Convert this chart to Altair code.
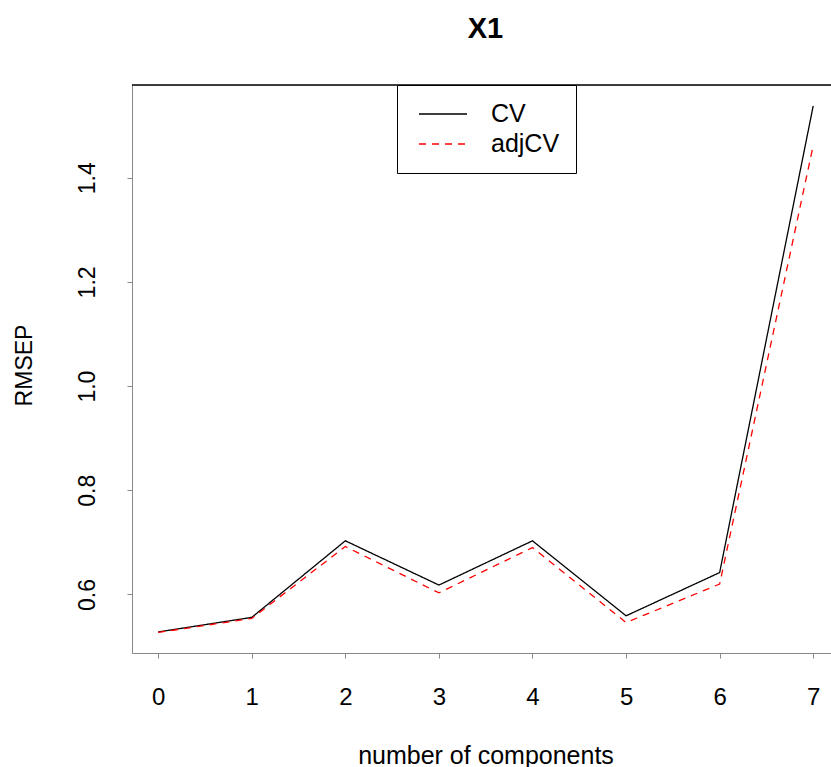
import altair as alt
import pandas as pd

components = [0, 1, 2, 3, 4, 5, 6, 7]
cv = [0.528, 0.556, 0.703, 0.618, 0.703, 0.559, 0.642, 1.538]
adjcv = [0.527, 0.554, 0.692, 0.603, 0.690, 0.546, 0.620, 1.462]
series_names = ["CV", "adjCV"]
y_ticks = [0.6, 0.8, 1.0, 1.2, 1.4]

df = pd.DataFrame({
    "ncomp": components * 2,
    "RMSEP": cv + adjcv,
    "series": ["CV"] * len(cv) + ["adjCV"] * len(adjcv),
})

W, H = 699, 568
FONT = "Liberation Sans"

xscale = alt.Scale(domain=[-0.28, 7.19], nice=False, zero=False)
yscale = alt.Scale(domain=[0.4876, 1.578], nice=False, zero=False)

legend = alt.Legend(
    title=None, orient="none", legendX=265, legendY=0,
    symbolType="M-2,0H2", symbolSize=576, symbolStrokeWidth=1.3,
    symbolOffset=17, labelOffset=35,
    labelFont=FONT, labelFontSize=25, labelColor="black",
    padding=16, rowPadding=4,
    strokeColor="black", fillColor="white",
    labelExpr="datum.label + '\u00a0'",
)

lines = alt.Chart(df).mark_line(strokeWidth=1.3, clip=True).encode(
    x=alt.X("ncomp:Q", scale=xscale,
            axis=alt.Axis(values=components, format="d", title="number of components",
                          grid=False, labelFontSize=24, labelPadding=27,
                          titleFontSize=25, titleFontWeight="normal",
                          titleX=353.5, titleY=110,
                          titleBaseline="alphabetic", titleAlign="center")),
    y=alt.Y("RMSEP:Q", scale=yscale,
            axis=alt.Axis(values=y_ticks, format=".1f", title="RMSEP", grid=False,
                          labelAngle=270, labelAlign="center", labelBaseline="alphabetic",
                          labelFontSize=23, labelPadding=33,
                          titleFontSize=23, titleFontWeight="normal", titleAngle=270,
                          titleX=-101, titleY=280,
                          titleBaseline="alphabetic", titleAlign="center")),
    color=alt.Color("series:N", scale=alt.Scale(domain=series_names, range=["black", "red"]),
                    legend=legend),
    strokeDash=alt.StrokeDash("series:N",
                              scale=alt.Scale(domain=series_names, range=[[1, 0], [7, 6]]),
                              legend=legend),
)

top_border = alt.Chart(pd.DataFrame({"b": [0]})).mark_rule(color="black", strokeWidth=1.3).encode(
    x=alt.value(0), x2=alt.value(W), y=alt.value(0)
)

chart = alt.layer(lines, top_border).properties(
    width=W, height=H,
    title=alt.TitleParams(text="X1", font=FONT, fontSize=29, fontWeight="bold", color="black",
                          anchor="middle", dx=4, offset=17, baseline="alphabetic", frame="group"),
    autosize=alt.AutoSizeParams(type="none"),
    padding={"left": 132, "top": 85, "right": 0, "bottom": 114},
).configure_view(stroke=None).configure_axis(
    grid=False, domainColor="black", domainWidth=1.3, tickColor="black", tickWidth=1.3,
    tickSize=14, labelFont=FONT, titleFont=FONT, labelColor="black", titleColor="black",
    titleFontWeight="normal",
).configure(background="white")

chart.save("out.html", embed_options={"renderer": "svg", "actions": False})
